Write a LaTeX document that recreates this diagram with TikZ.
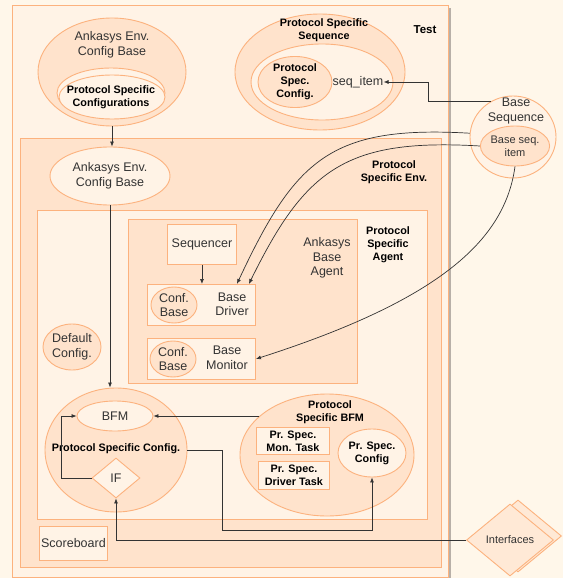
\documentclass[tikz,border=0pt]{standalone}
\usepackage{fontspec}
\setmainfont{Liberation Sans}
\usetikzlibrary{shapes.geometric,arrows.meta}
\definecolor{pagebg}{HTML}{FFF7EA}
\definecolor{testfill}{HTML}{FFF3E6}
\definecolor{peach}{HTML}{FFE3CC}
\definecolor{light}{HTML}{FFF3E6}
\definecolor{stk}{HTML}{FCB27E}
\definecolor{txtc}{HTML}{333333}
\definecolor{shadow}{HTML}{B8B0A8}
\begin{document}
\begin{tikzpicture}[x=1pt,y=-1pt,
  box/.style={draw=stk, line width=0.9pt, inner sep=0pt, anchor=north west},
  ell/.style={ellipse, draw=stk, line width=0.9pt, inner sep=0pt},
  txt/.style={font=\fontsize{12.5}{14.5}\selectfont, text=txtc, align=center, inner sep=0pt},
  stxt/.style={font=\fontsize{11}{13}\selectfont, text=txtc, align=center, inner sep=0pt},
  btxt/.style={font=\bfseries\fontsize{10.8}{13}\selectfont, text=black, align=center, inner sep=0pt},
  arr/.style={draw=black!80, line width=0.7pt, -{Latex[length=5pt,width=4pt]}},
  plain/.style={draw=black!80, line width=0.7pt}]
\useasboundingbox (0,0) rectangle (563,578);
\fill[pagebg] (0,0) rectangle (563,578);

% Test
\fill[shadow] (15,8) rectangle (451,580);
\node[box, fill=testfill, minimum width=436, minimum height=572] (test) at (12,5) {};
\node[btxt, font=\bfseries\fontsize{11.5}{13}\selectfont] (testlbl) at (425,30) {Test};

% top-left config base
\node[ell, fill=peach, minimum width=148, minimum height=108] (topcfg) at (112,72) {};
\node[txt] (topcfglbl) at (112,45) {Ankasys Env.\\Config Base};
\node[ell, fill=light, minimum width=108, minimum height=50] (pscA) at (111,93) {};
\node[ell, fill=light, minimum width=106, minimum height=44] (pscB) at (112,97) {};
\node[btxt] (psclbl) at (111,97.5) {Protocol Specific\\Configurations};

% Protocol specific sequence
\node[ell, fill=peach, minimum width=170, minimum height=116] (pss) at (320,72) {};
\node[btxt] (psslbl) at (324,30) {Protocol Specific\\Sequence};
\node[ell, fill=light, minimum width=142, minimum height=76] (pssin) at (322,82) {};
\node[ell, fill=peach, minimum width=74, minimum height=50, btxt] (psconf) at (295,82) {Protocol\\Spec.\\Config.};
\node[txt] (seqitem) at (358,82) {seq\_item};

% Env
\node[box, fill=peach, minimum width=421, minimum height=429] (env) at (20,138) {};
\node[btxt] (envlbl) at (394,172) {Protocol\\Specific Env.};
\node[ell, fill=light, minimum width=120, minimum height=58, txt] (envcfg) at (110,176) {Ankasys Env.\\Config Base};

% Agent
\node[box, fill=light, minimum width=390, minimum height=309] (agent) at (37,210) {};
\node[btxt] (agentlbl) at (388,245) {Protocol\\Specific\\Agent};
\node[box, fill=peach, minimum width=229, minimum height=164] (aba) at (128,219) {};
\node[txt] (abalbl) at (327,258) {Ankasys\\Base\\Agent};
\node[box, fill=light, minimum width=69, minimum height=40, txt] (seqr) at (167,224) {Sequencer};
\node[box, fill=light, minimum width=108, minimum height=41] (driver) at (147,284) {};
\node[ell, fill=peach, minimum width=46, minimum height=36, txt] (drvconf) at (174,305) {Conf.\\Base};
\node[txt] (drvlbl) at (232,304.5) {Base\\Driver};
\node[box, fill=light, minimum width=108, minimum height=41] (monitor) at (147,338) {};
\node[ell, fill=peach, minimum width=46, minimum height=36, txt] (monconf) at (173,359) {Conf.\\Base};
\node[txt] (monlbl) at (227,358) {Base\\Monitor};
\node[ell, fill=peach, minimum width=58, minimum height=46, txt] (defcfg) at (72,347) {Default\\Config.};

% Protocol specific config
\node[ell, fill=peach, minimum width=142, minimum height=124] (pscfg) at (116,450) {};
\node[btxt] (pscfglbl) at (116,449) {Protocol Specific Config.};
\node[ell, fill=light, minimum width=76, minimum height=30, txt] (bfm) at (115,416) {BFM};
\node[diamond, draw=stk, line width=0.9pt, fill=light, minimum width=48, minimum height=40, inner sep=0pt] (ifd) at (116,478) {};
\node[txt] (iflbl) at (116,478) {IF};

% Protocol specific BFM
\node[ell, fill=peach, minimum width=174, minimum height=122] (psbfm) at (327,455) {};
\node[btxt] (psbfmlbl) at (330,412) {Protocol\\Specific BFM};
\node[box, fill=light, minimum width=73, minimum height=27, btxt] (montask) at (256,427) {Pr. Spec.\\Mon. Task};
\node[box, fill=light, minimum width=71, minimum height=28, btxt] (drvtask) at (258,461) {Pr. Spec.\\Driver Task};
\node[ell, fill=light, minimum width=68, minimum height=48, btxt] (prconfig) at (372,453) {Pr. Spec.\\Config};

% Scoreboard
\node[box, fill=light, minimum width=68, minimum height=34, txt] (score) at (39,526) {Scoreboard};

% Base sequence
\node[ell, fill=light, minimum width=86, minimum height=82] (baseseq) at (513,137) {};
\node[txt] (baseseqlbl) at (516,111) {Base\\Sequence};
\node[ell, fill=peach, minimum width=64, minimum height=40, stxt] (baseitem) at (515,146) {Base seq.\\item};

% Interfaces
\node[diamond, draw=stk, line width=0.9pt, fill=peach!60!light, minimum width=87, minimum height=72, inner sep=0pt] (ifcb) at (518,536) {};
\node[diamond, draw=stk, line width=0.9pt, fill=peach!60!light, minimum width=87, minimum height=72, inner sep=0pt] (ifc) at (510,540) {};
\node[stxt] (ifclbl) at (510,540) {Interfaces};

% connectors
\draw[arr] (topcfg.south) -- (topcfg.south |- envcfg.north);
\draw[arr] (envcfg.south) -- (envcfg.south |- pscfg.north);
\draw[arr] (seqr.south) -- (seqr.south |- driver.north);
\draw[arr] (baseseq.122) -- ++(-62,0) |- (seqitem.east);
\draw[arr] (baseseq.175) .. controls (330,125) and (295,160) .. ([xshift=-19]driver.north east);
\draw[arr] (baseitem.west) .. controls (345,138) and (305,170) .. ([xshift=-7]driver.north east);
\draw[arr] (baseitem.south) .. controls (505,240) and (440,300) .. (monitor.east);
\draw[arr] (psbfm.150) -- (psbfm.150 -| bfm.east);
\draw[arr] (ifd.west) -- ++(-30,0) |- (bfm.west);
\draw[arr] (pscfg.east) -- ++(35,0) -- ++(0,80) -| (prconfig.south);
\draw[arr] (ifc.west) -| (ifd.south);
\end{tikzpicture}
\end{document}
